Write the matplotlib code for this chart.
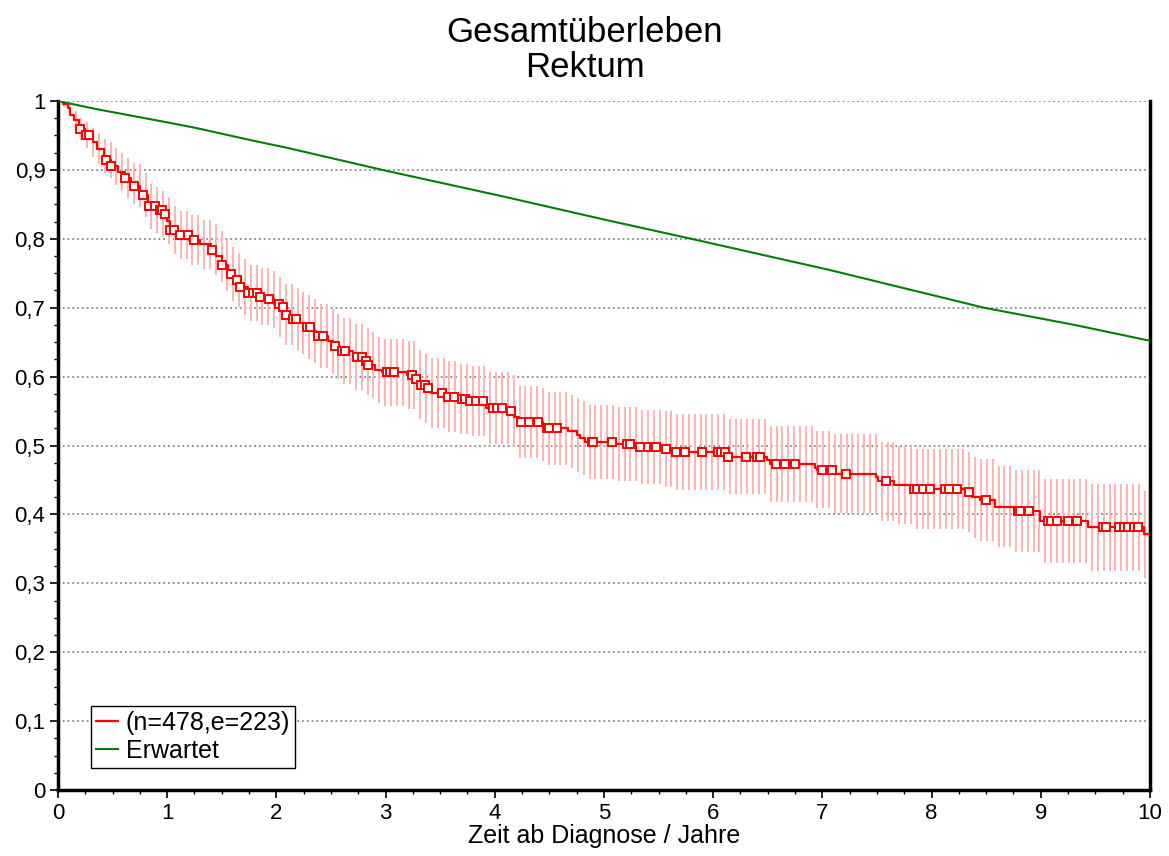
import numpy as np
import matplotlib.pyplot as plt
from matplotlib.ticker import MultipleLocator, FixedLocator

plt.rcParams['font.family'] = ['Liberation Sans', 'DejaVu Sans']

# Kaplan-Meier steps: time of drop (years), survival after drop, CI half-width
km_time = [0.0, 0.05, 0.095, 0.11, 0.15, 0.19, 0.25, 0.32, 0.36, 0.42, 0.44, 0.49,
           0.55, 0.61, 0.67, 0.70, 0.75, 0.78, 0.82, 0.90, 0.96, 1.00, 1.03, 1.10,
           1.20, 1.30, 1.40, 1.45, 1.50, 1.56, 1.62, 1.67, 1.74, 1.85, 1.93, 1.98,
           2.03, 2.08, 2.15, 2.22, 2.27, 2.32, 2.36, 2.47, 2.52, 2.58, 2.70, 2.80,
           2.84, 2.90, 2.97, 3.20, 3.28, 3.31, 3.37, 3.42, 3.55, 3.68, 3.75, 3.92,
           4.12, 4.18, 4.22, 4.44, 4.47, 4.67, 4.75, 4.78, 4.83, 5.10, 5.30, 5.53,
           5.62, 6.13, 6.49, 6.52, 6.93, 6.95, 7.11, 7.49, 7.51, 7.66, 7.82, 8.31,
           8.37, 8.44, 8.58, 8.77, 8.99, 9.43, 9.95]
km_surv = [1.0, 0.996, 0.99, 0.98, 0.972, 0.96, 0.951, 0.94, 0.931, 0.92, 0.914, 0.905,
           0.897, 0.888, 0.88, 0.877, 0.87, 0.864, 0.847, 0.842, 0.836, 0.826, 0.813, 0.805,
           0.798, 0.792, 0.784, 0.775, 0.762, 0.749, 0.740, 0.730, 0.721, 0.716, 0.712, 0.706,
           0.701, 0.690, 0.684, 0.678, 0.672, 0.666, 0.659, 0.651, 0.644, 0.637, 0.629, 0.622,
           0.617, 0.610, 0.606, 0.602, 0.597, 0.588, 0.583, 0.576, 0.571, 0.568, 0.565, 0.554,
           0.550, 0.542, 0.534, 0.531, 0.525, 0.521, 0.515, 0.511, 0.505, 0.502, 0.498, 0.495,
           0.491, 0.484, 0.479, 0.473, 0.468, 0.465, 0.459, 0.454, 0.448, 0.443, 0.437, 0.433,
           0.425, 0.421, 0.411, 0.405, 0.390, 0.381, 0.371]
km_ci = [0.0, 0.004, 0.007, 0.010, 0.014, 0.016, 0.019, 0.021, 0.023, 0.025, 0.026, 0.027,
         0.028, 0.029, 0.030, 0.031, 0.031, 0.032, 0.033, 0.033, 0.034, 0.034, 0.035, 0.035,
         0.036, 0.036, 0.037, 0.037, 0.038, 0.039, 0.039, 0.040, 0.041, 0.041, 0.042, 0.043,
         0.043, 0.044, 0.045, 0.045, 0.046, 0.046, 0.047, 0.047, 0.047, 0.048, 0.048, 0.048,
         0.048, 0.048, 0.049, 0.049, 0.050, 0.050, 0.050, 0.051, 0.051, 0.051, 0.051, 0.052,
         0.052, 0.052, 0.052, 0.053, 0.053, 0.053, 0.054, 0.054, 0.054, 0.054, 0.054, 0.055,
         0.055, 0.055, 0.055, 0.055, 0.056, 0.056, 0.057, 0.057, 0.057, 0.057, 0.058, 0.058,
         0.059, 0.059, 0.059, 0.060, 0.061, 0.063, 0.063]

# censored observations (years)
censored = [0.20, 0.26, 0.28, 0.44, 0.49, 0.61, 0.70, 0.78, 0.83, 0.89, 0.93, 0.95,
            0.98, 1.03, 1.06, 1.12, 1.19, 1.25, 1.41, 1.50, 1.58, 1.64, 1.67, 1.74,
            1.79, 1.82, 1.85, 1.93, 2.02, 2.06, 2.09, 2.15, 2.18, 2.28, 2.31, 2.38,
            2.43, 2.54, 2.60, 2.63, 2.74, 2.78, 2.82, 2.84, 3.01, 3.04, 3.08, 3.24,
            3.28, 3.32, 3.36, 3.39, 3.52, 3.57, 3.63, 3.70, 3.73, 3.77, 3.83, 3.89,
            3.98, 4.02, 4.07, 4.15, 4.24, 4.31, 4.40, 4.48, 4.50, 4.57, 4.89, 4.90,
            5.07, 5.21, 5.24, 5.33, 5.40, 5.46, 5.48, 5.57, 5.66, 5.74, 5.90, 6.04,
            6.07, 6.11, 6.14, 6.30, 6.40, 6.43, 6.58, 6.66, 6.75, 7.00, 7.09, 7.22,
            7.58, 7.84, 7.87, 7.92, 7.99, 8.12, 8.16, 8.23, 8.34, 8.50, 8.79, 8.81,
            8.89, 9.07, 9.09, 9.15, 9.25, 9.33, 9.57, 9.60, 9.72, 9.76, 9.80, 9.85, 9.89]

# expected survival
exp_time = [0, 0.36, 1.0, 1.26, 1.8, 2.1, 2.97, 4.09, 5.0, 5.8, 7.06, 8.48, 9.31, 10]
exp_surv = [1.0, 0.988, 0.969, 0.961, 0.942, 0.932, 0.90, 0.861, 0.828, 0.80, 0.755, 0.70, 0.675, 0.652]

km_time = np.array(km_time)
km_surv = np.array(km_surv)
km_ci = np.array(km_ci)


def step_eval(t, values):
    idx = np.searchsorted(km_time, t, side='right') - 1
    return values[idx]


fig = plt.figure(figsize=(11.69, 8.56), dpi=100)
ax = fig.add_axes([0.0496, 0.0771, 0.9341, 0.8049])

# CI bars on a regular grid
grid = np.arange(0.0535, 9.99, 0.0535)
s_g = step_eval(grid, km_surv)
h_g = step_eval(grid, km_ci)
ax.vlines(grid, s_g - h_g, s_g + h_g, color='#ffb4b4', lw=1.4, zorder=2)

ax.step(np.append(km_time, 10), np.append(km_surv, km_surv[-1]), where='post',
        color='red', lw=1.6, zorder=3, label='(n=478,e=223)')
cens = np.array(censored)
ax.plot(cens, step_eval(cens, km_surv), ls='none', marker='s', ms=5.2, mfc='white',
        mec='red', mew=1.4, zorder=4)

ax.plot(exp_time, exp_surv, color='#008000', lw=1.5, zorder=3, label='Erwartet')

ax.set_xlim(0, 10)
ax.set_ylim(0, 1)
ax.xaxis.set_major_locator(MultipleLocator(1))
ax.xaxis.set_minor_locator(MultipleLocator(0.25))
ax.yaxis.set_major_locator(FixedLocator(np.arange(0, 1.01, 0.1)))
ax.yaxis.set_minor_locator(MultipleLocator(0.025))
ax.set_yticklabels(['0'] + ['0,%d' % i for i in range(1, 10)] + ['1'])
ax.tick_params(which='major', direction='out', length=6, width=1.2, labelsize=16, pad=3)
ax.tick_params(which='minor', direction='out', length=3, width=1)
ax.yaxis.grid(True, ls=':', color='#888888', lw=1.3)
ax.set_axisbelow(True)

ax.spines['top'].set_visible(False)
for side in ['left', 'bottom', 'right']:
    ax.spines[side].set_linewidth(2.5)

ax.set_xlabel('Zeit ab Diagnose / Jahre', fontsize=18, labelpad=0)
fig.suptitle('Gesamtüberleben\nRektum', fontsize=25, y=0.981, va='top', linespacing=1.05)

leg = ax.legend(loc='lower left', bbox_to_anchor=(0.03, 0.032), borderaxespad=0,
                fontsize=18, handlelength=0.9, handletextpad=0.3, fancybox=False,
                edgecolor='black', framealpha=1, borderpad=0.2, labelspacing=0.15)
leg.get_frame().set_linewidth(1.0)

fig.savefig('out.png', dpi=100)
